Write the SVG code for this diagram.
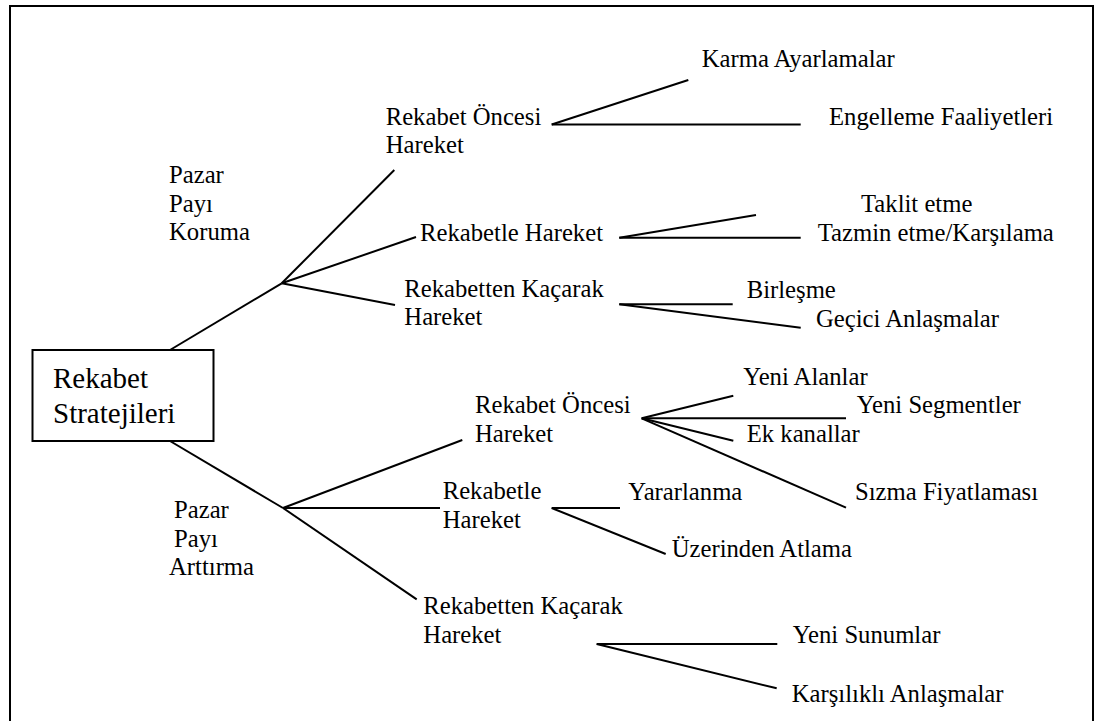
<svg xmlns="http://www.w3.org/2000/svg" width="1098" height="721" viewBox="0 0 1098 721">
<style>
.t{font-family:'Liberation Serif','Times New Roman',Tinos,'DejaVu Serif',serif;font-size:24.7px;fill:#000}
.root text{font-size:29px}
.ln{stroke:#000;stroke-width:2;fill:none;stroke-linecap:butt}
.frame{stroke:#000;stroke-width:2;fill:none}
</style>
<rect width="1098" height="721" fill="#fff"/>
<path class="frame" d="M10,721 V6 H1093 V721"/>
<g id="connectors">
<line class="ln" x1="170" y1="350" x2="281.7" y2="283.3"/>
<line class="ln" x1="281.7" y1="283.3" x2="394.3" y2="170"/>
<line class="ln" x1="281.7" y1="283.3" x2="416" y2="237"/>
<line class="ln" x1="281.7" y1="283.3" x2="395" y2="305"/>
<line class="ln" x1="551.7" y1="124.5" x2="688.3" y2="80"/>
<line class="ln" x1="551.7" y1="124.5" x2="800.7" y2="124.5"/>
<line class="ln" x1="619.3" y1="237.7" x2="756" y2="215"/>
<line class="ln" x1="619.3" y1="237.7" x2="800.7" y2="237.7"/>
<line class="ln" x1="619.3" y1="304.3" x2="732.7" y2="304.3"/>
<line class="ln" x1="619.3" y1="304.3" x2="800.7" y2="327.7"/>
<line class="ln" x1="170" y1="441" x2="283" y2="508"/>
<line class="ln" x1="283" y1="508" x2="416.7" y2="599.3"/>
<line class="ln" x1="283" y1="508" x2="462.3" y2="440"/>
<line class="ln" x1="283" y1="508" x2="440" y2="508"/>
<line class="ln" x1="641.7" y1="418.3" x2="733.3" y2="395.7"/>
<line class="ln" x1="641.7" y1="418.3" x2="846" y2="418.3"/>
<line class="ln" x1="641.7" y1="418.3" x2="733.3" y2="440.7"/>
<line class="ln" x1="641.7" y1="418.3" x2="846" y2="507.7"/>
<line class="ln" x1="551.7" y1="508" x2="620" y2="508"/>
<line class="ln" x1="551.7" y1="508" x2="665.7" y2="554"/>
<line class="ln" x1="596.7" y1="644" x2="777.3" y2="644"/>
<line class="ln" x1="596.7" y1="644" x2="776.7" y2="688.3"/>
</g>
<g class="t" font-family="'Liberation Serif', 'Times New Roman', serif">
<g id="root" class="root">
<rect x="32.5" y="350" width="181" height="91" fill="none" stroke="#000" stroke-width="2"/>
<text x="53" y="387.5">Rekabet</text>
<text x="53" y="422.7">Stratejileri</text>
</g>
<g id="pazar-koruma">
<text x="169" y="182.7">Pazar</text>
<text x="169" y="211.7">Payı</text>
<text x="169" y="240">Koruma</text>
</g>
<g id="pazar-arttirma">
<text x="174" y="518.3">Pazar</text>
<text x="174" y="546.7">Payı</text>
<text x="169" y="575">Arttırma</text>
</g>
<g id="k-oncesi">
<text x="385.7" y="125">Rekabet Öncesi</text>
<text x="385.7" y="153.3">Hareket</text>
</g>
<g id="k-rekabetle"><text x="420" y="240.7">Rekabetle Hareket</text></g>
<g id="k-kacarak">
<text x="404.3" y="297.3">Rekabetten Kaçarak</text>
<text x="404.3" y="325">Hareket</text>
</g>
<g id="karma"><text x="701.7" y="66.7">Karma Ayarlamalar</text></g>
<g id="engelleme"><text x="829" y="125">Engelleme Faaliyetleri</text></g>
<g id="taklit"><text x="861" y="211.7">Taklit etme</text></g>
<g id="tazmin"><text x="817.7" y="240.7">Tazmin etme/Karşılama</text></g>
<g id="birlesme"><text x="746.7" y="297.7">Birleşme</text></g>
<g id="gecici"><text x="816" y="326.7">Geçici Anlaşmalar</text></g>
<g id="a-oncesi">
<text x="475" y="412.7">Rekabet Öncesi</text>
<text x="475" y="441.7">Hareket</text>
</g>
<g id="a-rekabetle">
<text x="442.7" y="499.3">Rekabetle</text>
<text x="442.7" y="528.3">Hareket</text>
</g>
<g id="a-kacarak">
<text x="423.3" y="614">Rekabetten Kaçarak</text>
<text x="423.3" y="643.3">Hareket</text>
</g>
<g id="yeni-alanlar"><text x="743.3" y="385">Yeni Alanlar</text></g>
<g id="yeni-segmentler"><text x="856.7" y="412.7">Yeni Segmentler</text></g>
<g id="ek-kanallar"><text x="746.7" y="442.3">Ek kanallar</text></g>
<g id="sizma"><text x="855" y="500">Sızma Fiyatlaması</text></g>
<g id="yararlanma"><text x="628.3" y="500">Yararlanma</text></g>
<g id="uzerinden"><text x="671.7" y="557.3">Üzerinden Atlama</text></g>
<g id="yeni-sunumlar"><text x="792.7" y="643.3">Yeni Sunumlar</text></g>
<g id="karsilikli"><text x="791.7" y="702.3">Karşılıklı Anlaşmalar</text></g>
</g>
</svg>
